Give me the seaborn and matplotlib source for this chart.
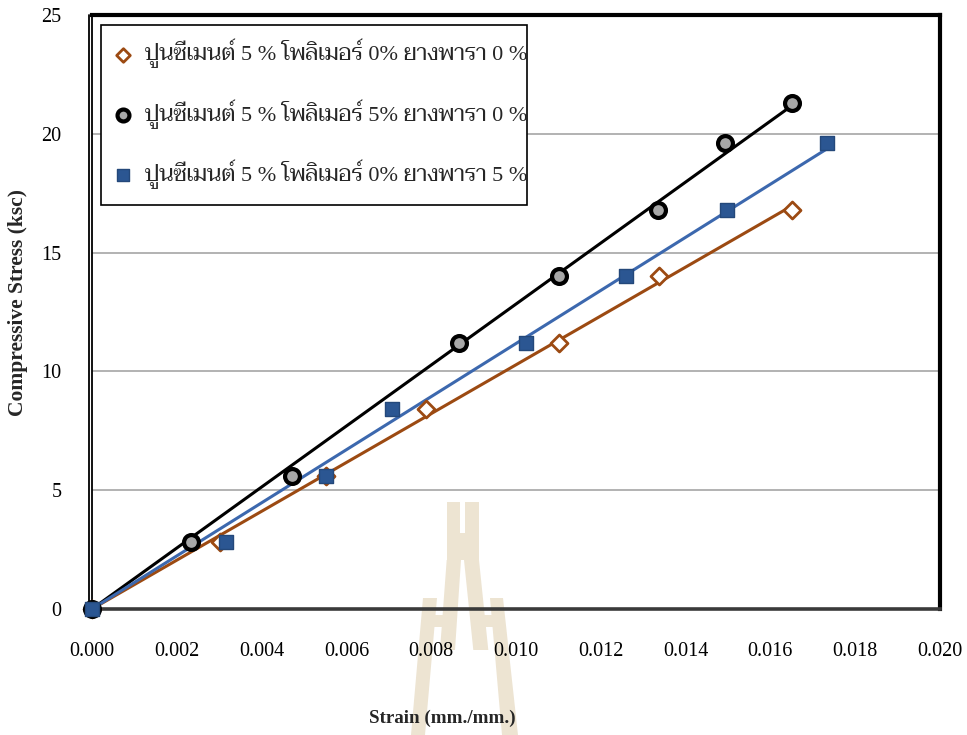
import matplotlib
matplotlib.use("Agg")
import numpy as np
import pandas as pd
import seaborn as sns
import matplotlib.pyplot as plt
from matplotlib import font_manager as fm
from matplotlib.patches import Polygon, Rectangle
from matplotlib.lines import Line2D

# ---- data -------------------------------------------------------------
strain_p0r0 = [0.0, 0.00302, 0.00552, 0.00788, 0.01102, 0.01338, 0.01652]
stress_p0r0 = [0.0, 2.8, 5.6, 8.4, 11.2, 14.0, 16.8]

strain_p5r0 = [0.0, 0.00233, 0.00472, 0.00866, 0.01101, 0.01336, 0.01494, 0.01652]
stress_p5r0 = [0.0, 2.8, 5.6, 11.2, 14.0, 16.8, 19.6, 21.3]

strain_p0r5 = [0.0, 0.00316, 0.00552, 0.00708, 0.01023, 0.01259, 0.01497, 0.01733]
stress_p0r5 = [0.0, 2.8, 5.6, 8.4, 11.2, 14.0, 16.8, 19.6]

series_labels = [
    "ปูนซีเมนต์ 5 % โพลิเมอร์ 0% ยางพารา 0 %",
    "ปูนซีเมนต์ 5 % โพลิเมอร์ 5% ยางพารา 0 %",
    "ปูนซีเมนต์ 5 % โพลิเมอร์ 0% ยางพารา 5 %",
]
x_ticks = [0.000, 0.002, 0.004, 0.006, 0.008, 0.010, 0.012, 0.014, 0.016, 0.018, 0.020]
y_ticks = [0, 5, 10, 15, 20, 25]

# ---- fonts ------------------------------------------------------------
sns.set_style("white")
installed = {f.name for f in fm.fontManager.ttflist}
thai_choice = [f for f in ["Taviraj", "Trirong", "Noto Serif Thai", "Sarabun",
                           "Noto Sans Thai Looped", "Noto Sans Thai", "Athiti"]
               if f in installed][:1]
serif = "Liberation Serif" if "Liberation Serif" in installed else "DejaVu Serif"
plt.rcParams["font.family"] = [serif] + thai_choice + ["DejaVu Sans"]

W, H = 967, 735
fig = plt.figure(figsize=(W / 100, H / 100), dpi=100)
fig.patch.set_facecolor("white")
ax = fig.add_axes([92 / W, 126 / H, (940 - 92) / W, (609 - 15) / H])
ax.set_facecolor("none")

brown = "#9C4A12"
black = "#000000"
blue_line = "#3C68AE"
blue_fill = "#2B5692"


def through_origin_fit(x, y):
    x = np.asarray(x)
    y = np.asarray(y)
    k = (x * y).sum() / (x * x).sum()
    xs = np.array([0.0, x.max()])
    return pd.DataFrame({"x": xs, "y": k * xs})


# trend lines
for xs, ys, c in [(strain_p0r0, stress_p0r0, brown),
                  (strain_p5r0, stress_p5r0, black),
                  (strain_p0r5, stress_p0r5, blue_line)]:
    fit = through_origin_fit(xs, ys)
    sns.lineplot(data=fit, x="x", y="y", ax=ax, color=c, linewidth=2.2,
                 zorder=2, legend=False)

# markers
sns.scatterplot(x=strain_p0r0, y=stress_p0r0, ax=ax, marker="D", s=75,
                facecolor="white", edgecolor=brown, linewidth=2.0,
                zorder=3, label=series_labels[0], clip_on=False)
sns.scatterplot(x=strain_p5r0, y=stress_p5r0, ax=ax, marker="o", s=115,
                facecolor="#A8A8A8", edgecolor=black, linewidth=3.0,
                zorder=3, label=series_labels[1], clip_on=False)
sns.scatterplot(x=strain_p0r5, y=stress_p0r5, ax=ax, marker="s", s=100,
                facecolor=blue_fill, edgecolor="#24487A", linewidth=1.0,
                zorder=3, label=series_labels[2], clip_on=False)

ax.set_xlim(0, 0.020)
ax.set_ylim(0, 25)
ax.set_xticks(x_ticks)
ax.set_xticklabels([f"{v:.3f}" for v in x_ticks])
ax.set_yticks(y_ticks)
ax.set_yticklabels([str(v) for v in y_ticks])
ax.tick_params(axis="both", direction="out", length=9, width=1,
               color="#8C8C8C", labelsize=14.5, labelcolor="black")
ax.tick_params(axis="x", pad=15)
ax.tick_params(axis="y", pad=13)
ax.yaxis.grid(True, color="#A6A6A6", linewidth=1.2)
ax.xaxis.grid(False)
ax.set_axisbelow(True)

for side in ["top", "right"]:
    ax.spines[side].set_color("black")
    ax.spines[side].set_linewidth(3)
ax.spines["left"].set_color("black")
ax.spines["left"].set_linewidth(1.3)
ax.spines["bottom"].set_color("#3A3A3A")
ax.spines["bottom"].set_linewidth(2.6)
# second thin line alongside the y axis
ax.add_line(Line2D([-0.0035, -0.0035], [0, 1], transform=ax.transAxes,
                   color="black", linewidth=1.3, clip_on=False))

ax.set_xlabel("Strain (mm./mm.)", fontsize=13.7, fontweight="bold")
ax.set_ylabel("Compressive Stress (ksc)", fontsize=15.5, fontweight="bold")
ax.xaxis.set_label_coords((442 - 92) / (940 - 92), -(710 - 609) / (609 - 15))
ax.yaxis.set_label_coords(-(92 - 28) / (940 - 92), (609 - 302) / (609 - 15))

# legend box with a square black frame
ax.add_patch(Rectangle((101 / W, 1 - 205 / H), (527 - 101) / W, (205 - 25) / H,
                       transform=fig.transFigure, facecolor="white",
                       edgecolor="black", linewidth=1.2, zorder=4.5,
                       clip_on=False))
leg = ax.legend(loc="upper left", bbox_to_anchor=(112 / W, 1 - 39 / H),
                bbox_transform=fig.transFigure, borderaxespad=0,
                frameon=False, fontsize=16, labelspacing=1.39, borderpad=0,
                handletextpad=0.5, handlelength=1.0, markerscale=0.8)
leg.set_zorder(5)

# faint emblem watermark at the bottom of the page
tan = "#EDE4D2"
shapes = [
    [(446.7, 501.7), (460, 501.7), (460, 533), (446.7, 533)],
    [(465, 501.7), (479, 501.7), (479, 533), (465, 533)],
    [(446.7, 533), (479, 533), (479, 560), (446.7, 560)],
    [(446.7, 560), (461, 560), (455, 650), (440, 650)],
    [(464, 560), (479, 560), (488.3, 650), (473.3, 650)],
    [(423, 598), (437, 598), (425, 735), (411, 735)],
    [(490, 598), (503, 598), (518, 735), (502, 735)],
    [(433, 615), (452, 615), (451, 627), (432, 627)],
    [(476, 615), (494, 615), (495.5, 627), (477, 627)],
]
for pts in shapes:
    fig.patches.append(Polygon([(px / W, 1 - py / H) for px, py in pts],
                               closed=True, transform=fig.transFigure,
                               facecolor=tan, edgecolor="none", zorder=-1))

fig.savefig("out.png", dpi=100)
